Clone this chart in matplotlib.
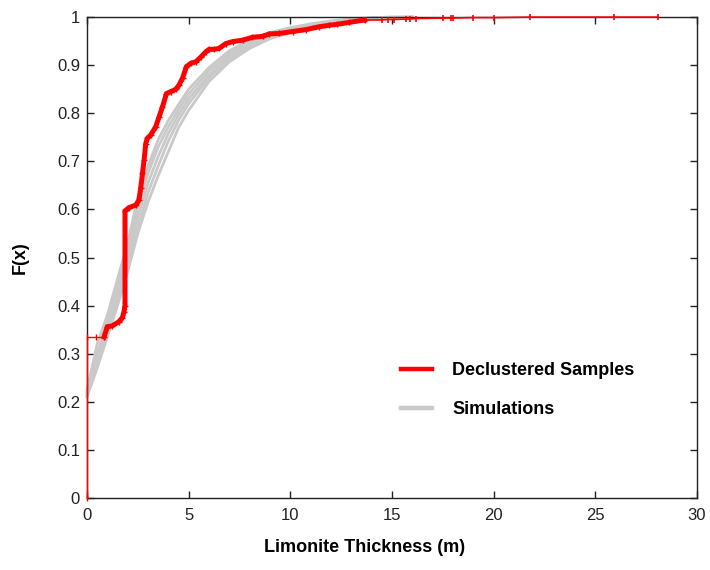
import matplotlib
matplotlib.use("Agg")
import matplotlib.pyplot as plt

plt.rcParams['font.family'] = ['Liberation Sans', 'DejaVu Sans']

# Declustered sample CDF: main (dense) part
sample_x = [0.84, 1.0, 1.25, 1.58, 1.74, 1.82, 1.87, 1.87, 2.07, 2.4, 2.56, 2.64, 2.73,
            2.81, 2.89, 2.97, 3.14, 3.38, 3.55, 3.71, 3.91, 4.12, 4.37, 4.53, 4.70,
            4.89, 5.11, 5.35, 5.60, 5.85, 6.01, 6.26, 6.50, 6.83, 7.16, 7.65, 8.14,
            8.64, 8.97, 9.46, 10.11, 10.77, 11.43, 11.92, 12.3, 12.9, 13.65]
sample_F = [0.335, 0.356, 0.358, 0.367, 0.375, 0.387, 0.40, 0.597, 0.604, 0.609, 0.62,
            0.644, 0.675, 0.703, 0.737, 0.748, 0.755, 0.772, 0.793, 0.813, 0.841, 0.845,
            0.850, 0.859, 0.873, 0.897, 0.904, 0.907, 0.917, 0.928, 0.933, 0.933, 0.935,
            0.945, 0.949, 0.952, 0.958, 0.960, 0.965, 0.966, 0.970, 0.974, 0.980,
            0.983, 0.985, 0.989, 0.994]

# Lower step of the sample CDF
low_x = [0.0, 0.0, 0.43, 0.84]
low_F = [0.0, 0.335, 0.335, 0.335]

# Upper tail of the sample CDF
tail_x = [13.65, 14.5, 14.8, 15.1, 15.7, 15.9, 16.2, 17.5, 17.9, 18.0, 19.0, 20.0,
          21.8, 25.9, 28.1]
tail_F = [0.994, 0.994, 0.995, 0.995, 0.996, 0.996, 0.997, 0.998, 0.998, 0.998,
          0.999, 0.999, 1.0, 1.0, 1.0]

# Simulated CDFs
sim_x = [0, 0.5, 1, 1.5, 2, 2.5, 3, 3.5, 4, 4.5, 5, 6, 7, 8, 9, 10, 11, 12, 13, 14, 15, 16]
sim_F = [
    [0.225, 0.32, 0.38, 0.455, 0.53, 0.625, 0.69, 0.745, 0.785, 0.818, 0.85, 0.895,
     0.93, 0.952, 0.968, 0.978, 0.986, 0.992, 0.996, 0.999, 1.0, 1.0],
    [0.22, 0.30, 0.365, 0.44, 0.515, 0.605, 0.675, 0.73, 0.772, 0.808, 0.84, 0.888,
     0.924, 0.947, 0.964, 0.975, 0.984, 0.99, 0.995, 0.998, 1.0, 1.0],
    [0.218, 0.29, 0.355, 0.425, 0.50, 0.585, 0.655, 0.71, 0.758, 0.797, 0.83, 0.88,
     0.918, 0.943, 0.96, 0.972, 0.981, 0.988, 0.993, 0.997, 0.999, 1.0],
    [0.215, 0.28, 0.345, 0.41, 0.485, 0.565, 0.635, 0.69, 0.742, 0.785, 0.82, 0.874,
     0.912, 0.94, 0.958, 0.97, 0.98, 0.987, 0.992, 0.996, 0.999, 1.0],
    [0.21, 0.27, 0.335, 0.40, 0.47, 0.55, 0.615, 0.67, 0.72, 0.77, 0.806, 0.866,
     0.907, 0.935, 0.955, 0.968, 0.978, 0.986, 0.992, 0.996, 0.999, 1.0],
]

x_ticks = [0, 5, 10, 15, 20, 25, 30]
y_ticks = [0, 0.1, 0.2, 0.3, 0.4, 0.5, 0.6, 0.7, 0.8, 0.9, 1]
y_tick_labels = ['0', '0.1', '0.2', '0.3', '0.4', '0.5', '0.6', '0.7', '0.8', '0.9', '1']

fig = plt.figure(figsize=(7.1, 5.7), dpi=100)
ax = fig.add_axes([0.1225, 0.1263, 0.8592, 0.8437])

gray = '#c9c9c9'
for i, f in enumerate(sim_F):
    ax.plot(sim_x, f, color=gray, lw=2.0, zorder=2,
            label='Simulations' if i == 0 else None, clip_on=False)

red = '#ff0000'
ax.plot(low_x, low_F, color=red, lw=1.0, marker='|', ms=5, mew=1.0,
        zorder=4, clip_on=False)
ax.plot(sample_x, sample_F, color=red, lw=3.6, zorder=4,
        label='Declustered Samples', solid_joinstyle='miter')
ax.plot(sample_x, sample_F, ls='none', color=red, marker='+', ms=5, mew=1.0, zorder=4)
ax.plot(tail_x, tail_F, color=red, lw=1.2, marker='|', ms=5, mew=1.2,
        zorder=4, clip_on=False)

ax.set_xlim(0, 30)
ax.set_ylim(0, 1)
ax.set_xticks(x_ticks)
ax.set_xticklabels([str(v) for v in x_ticks])
ax.set_yticks(y_ticks)
ax.set_yticklabels(y_tick_labels)
ax.tick_params(direction='in', length=5, width=1, top=True, right=True,
               labelsize=12, colors='#222222')
ax.tick_params(axis='x', pad=7)
ax.tick_params(axis='y', pad=5)
for s in ax.spines.values():
    s.set_linewidth(1.0)
    s.set_color('#222222')

ax.set_xlabel('Limonite Thickness (m)', fontsize=13, fontweight='bold', va='center')
ax.xaxis.set_label_coords(0.455, -0.102)
ax.set_ylabel('F(x)', fontsize=13, fontweight='bold', va='center')
ax.yaxis.set_label_coords(-0.110, 0.5)

handles, labels = ax.get_legend_handles_labels()
order = [labels.index('Declustered Samples'), labels.index('Simulations')]
leg = ax.legend([handles[i] for i in order], [labels[i] for i in order],
                loc='upper left', bbox_to_anchor=(0.514, 0.283), frameon=False,
                borderpad=0, borderaxespad=0, handlelength=1.77, handletextpad=1.1,
                labelspacing=1.22, prop={'weight': 'bold', 'size': 13})
for line in leg.get_lines():
    line.set_linewidth(3.2)

fig.savefig('out.png', dpi=100)
